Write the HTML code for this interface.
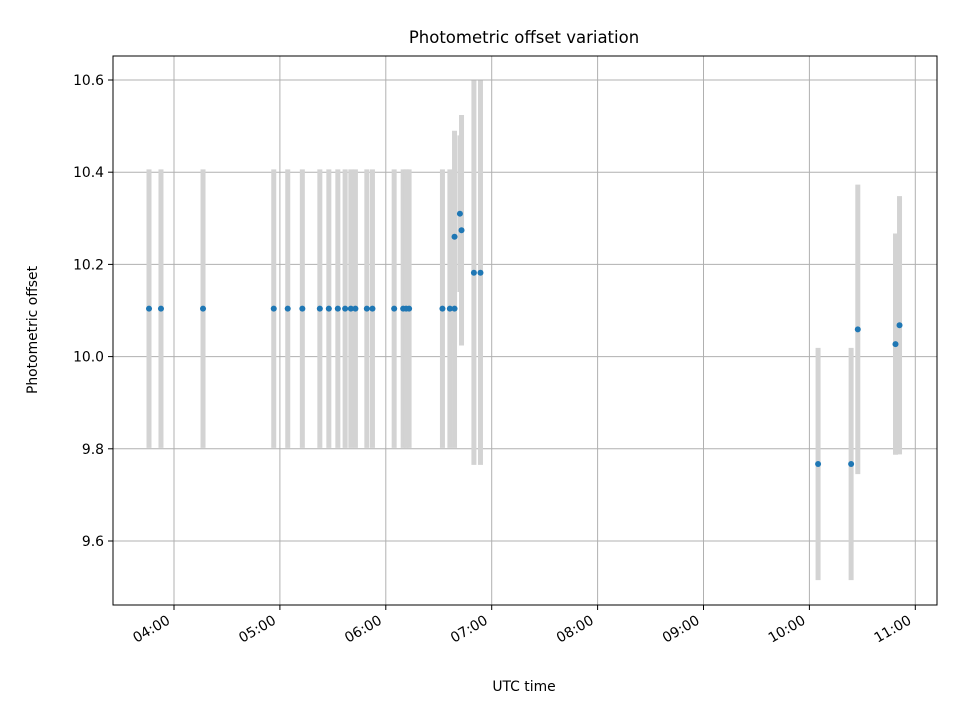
<!DOCTYPE html>
<html><head><meta charset="utf-8"><style>
body{margin:0;background:#fff}
svg{display:block;font-family:"DejaVu Sans","Liberation Sans",sans-serif}
</style></head><body>
<svg id="chart" width="960" height="720" viewBox="0 0 960 720">
<rect width="960" height="720" fill="#fff"/>
<g id="grid"></g>
<g id="bars"></g>
<g id="pts"></g>
<g id="axes"></g>
<text x="524" y="43" font-size="16.5" text-anchor="middle">Photometric offset variation</text>
<text x="524" y="691" font-size="13.9" text-anchor="middle">UTC time</text>
<text transform="translate(37,330) rotate(-90)" font-size="13.9" text-anchor="middle">Photometric offset</text>
</svg>
<script>
const times=[3.764,3.877,4.274,4.942,5.074,5.212,5.377,5.462,5.547,5.616,5.670,5.713,5.821,5.874,6.079,6.164,6.192,6.220,6.535,6.605,6.649,6.649,6.700,6.715,6.832,6.894,10.082,10.394,10.457,10.813,10.851];
const values=[10.104,10.104,10.104,10.104,10.104,10.104,10.104,10.104,10.104,10.104,10.104,10.104,10.104,10.104,10.104,10.104,10.104,10.104,10.104,10.104,10.104,10.26,10.31,10.274,10.182,10.182,9.767,9.767,10.059,10.027,10.068];
const errors=[0.302,0.302,0.302,0.302,0.302,0.302,0.302,0.302,0.302,0.302,0.302,0.302,0.302,0.302,0.302,0.302,0.302,0.302,0.302,0.302,0.302,0.23,0.17,0.25,0.417,0.417,0.252,0.252,0.314,0.24,0.28];
const yTicks=[9.6,9.8,10.0,10.2,10.4,10.6];
const xTicks=[4,5,6,7,8,9,10,11];
const xTickLabels=["04:00","05:00","06:00","07:00","08:00","09:00","10:00","11:00"];
const L=113,R=937,T=56,B=605;
function X(h){return 174+(h-4)*105.9;}
function Y(v){return 80+(10.6-v)*461;}
const NS="http://www.w3.org/2000/svg";
function mk(tag,attrs,parent){const e=document.createElementNS(NS,tag);for(const k in attrs)e.setAttribute(k,attrs[k]);parent.appendChild(e);return e;}
const grid=document.getElementById('grid'),bars=document.getElementById('bars'),pts=document.getElementById('pts'),axes=document.getElementById('axes');
yTicks.forEach(v=>{
 const l=mk('line',{x1:L,x2:R,y1:Y(v),y2:Y(v),stroke:'#b0b0b0','stroke-width':1},grid);
 
 
 mk('line',{x1:L-5,x2:L,y1:Y(v),y2:Y(v),stroke:'#000','stroke-width':1},axes);
 const t=mk('text',{x:L-9,y:Y(v)+5,'font-size':13.9,'text-anchor':'end'},axes);
 t.textContent=v.toFixed(1);
 
 
});
xTicks.forEach((h,i)=>{
 const l=mk('line',{x1:X(h),x2:X(h),y1:T,y2:B,stroke:'#b0b0b0','stroke-width':1},grid);
 
 
 mk('line',{x1:X(h),x2:X(h),y1:B,y2:B+5,stroke:'#000','stroke-width':1},axes);
 const t=mk('text',{transform:`translate(${X(h)-3},${B+18}) rotate(-30)`,'font-size':13.9,'text-anchor':'end'},axes);
 t.textContent=xTickLabels[i];
 
 
});
mk('rect',{x:L,y:T,width:R-L,height:B-T,fill:'none',stroke:'#000','stroke-width':1},axes);
times.forEach((h,i)=>{
 const b=mk('line',{x1:X(h),x2:X(h),y1:Y(values[i]+errors[i]),y2:Y(values[i]-errors[i]),stroke:'#d3d3d3','stroke-width':5},bars);
 
 
});
times.forEach((h,i)=>{
 const c=mk('circle',{cx:X(h),cy:Y(values[i]),r:3,fill:'#1f77b4'},pts);
 
 
});
</script>
</body></html>
